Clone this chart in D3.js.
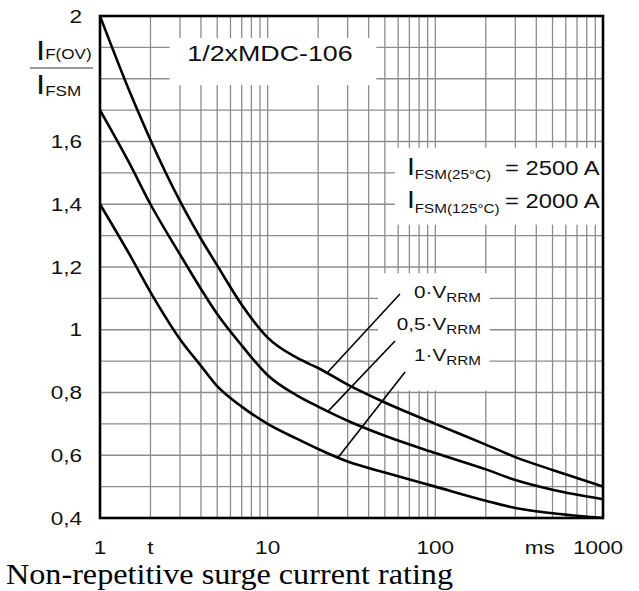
<!DOCTYPE html>
<html><head><meta charset="utf-8">
<script src="https://cdn.jsdelivr.net/npm/d3@7"></script>
<style>body{margin:0;background:#fff}svg{display:block}</style>
</head><body><svg id="c" width="639" height="591"></svg>
<script>
// ---- data ----
const timesMs   = [1, 1.5, 2, 3, 4, 5, 7, 10, 15, 20, 30, 50, 100, 200, 300, 500, 1000];
const ratio0V   = [2.00, 1.76, 1.605, 1.41, 1.29, 1.205, 1.08, 0.975, 0.91, 0.878, 0.825, 0.768, 0.700, 0.634, 0.594, 0.553, 0.500];
const ratio05V  = [1.70, 1.53, 1.40, 1.24, 1.13, 1.05, 0.95, 0.855, 0.79, 0.755, 0.710, 0.662, 0.607, 0.555, 0.521, 0.490, 0.460];
const ratio1V   = [1.40, 1.24, 1.12, 0.97, 0.885, 0.82, 0.755, 0.700, 0.652, 0.620, 0.580, 0.545, 0.500, 0.455, 0.432, 0.415, 0.400];
const seriesNames = ["0·V", "0,5·V", "1·V"];
const yTickValues = [0.4, 0.6, 0.8, 1, 1.2, 1.4, 1.6, 2];
const yTickLabels = ["0,4", "0,6", "0,8", "1", "1,2", "1,4", "1,6", "2"];
const xTickValues = [1, 2, 10, 100, 420, 1000];
const xTickLabels = ["1", "t", "10", "100", "ms", "1000"];
const hGridValues = [0.5,0.6,0.7,0.8,0.9,1.0,1.1,1.2,1.3,1.4,1.5,1.6,1.7,1.8,1.9];
const vGridValues = [2,3,4,5,6,7,8,9,10,20,30,40,50,60,70,80,90,100,200,300,400,500,600,700,800,900];
// leader lines: label end (t, ratio) -> point on curve (t)
const leaderStartT = [61.5, 57.5, 66];
const leaderStartV = [1.114, 0.964, 0.865];
const leaderEndT   = [22.6, 22.9, 26.3];
const labelBaseV   = [1.1, 1.0, 0.9];

// ---- layout ----
const svg = d3.select("#c");
const P = {left: 100, top: 16, right: 603, bottom: 518};
const x = d3.scaleLog().domain([1, 1000]).range([P.left, P.right]);
const y = d3.scaleLinear().domain([0.4, 2]).range([P.bottom, P.top]);
const SX = 1.22;               // horizontal stretch of the scanned lettering
const FONT = "'Liberation Sans', Arial, sans-serif";
const GRID = "#8c8c8c";

svg.append("rect").attr("width", 639).attr("height", 591).attr("fill", "#fff");

// grid
const g = svg.append("g");
g.selectAll("line.h").data(hGridValues).join("line")
  .attr("x1", P.left).attr("x2", P.right)
  .attr("y1", d => y(d)).attr("y2", d => y(d))
  .attr("stroke", GRID).attr("stroke-width", 1.3);
g.selectAll("line.v").data(vGridValues).join("line")
  .attr("y1", P.top).attr("y2", P.bottom)
  .attr("x1", d => x(d)).attr("x2", d => x(d))
  .attr("stroke", GRID).attr("stroke-width", 1.3);

// white boxes that interrupt the grid behind text
function box(t0, t1, v0, v1) {
  svg.append("rect").attr("x", x(t0)).attr("y", y(v0))
    .attr("width", x(t1) - x(t0)).attr("height", y(v1) - y(v0)).attr("fill", "#fff");
}
box(2.6, 44.5, 1.93, 1.78);      // title
box(57.4, 1000, 1.58, 1.335);    // I_FSM legend
box(45.5, 211, 1.18, 0.806);     // curve labels

// curves
const line = d3.line().x(d => x(d[0])).y(d => y(d[1])).curve(d3.curveMonotoneX);
[ratio0V, ratio05V, ratio1V].forEach(vals => {
  svg.append("path").datum(timesMs.map((t, i) => [t, vals[i]]))
    .attr("d", line).attr("fill", "none").attr("stroke", "#000")
    .attr("stroke-width", 2.6).attr("stroke-linejoin", "round");
});

// leader lines
function interp(vals, t) {
  const lt = Math.log10(t);
  for (let i = 0; i < timesMs.length - 1; i++) {
    const a = Math.log10(timesMs[i]), b = Math.log10(timesMs[i + 1]);
    if (lt >= a && lt <= b) return vals[i] + (vals[i + 1] - vals[i]) * (lt - a) / (b - a);
  }
  return vals[vals.length - 1];
}
[ratio0V, ratio05V, ratio1V].forEach((vals, i) => {
  svg.append("line")
    .attr("x1", x(leaderStartT[i])).attr("y1", y(leaderStartV[i]))
    .attr("x2", x(leaderEndT[i])).attr("y2", y(interp(vals, leaderEndT[i])))
    .attr("stroke", "#000").attr("stroke-width", 1.6);
});

// frame
svg.append("rect").attr("x", P.left).attr("y", P.top)
  .attr("width", P.right - P.left).attr("height", P.bottom - P.top)
  .attr("fill", "none").attr("stroke", "#000").attr("stroke-width", 2.6);

// stretched text helper
function st(px, py, anchor, size, family, sx) {
  return svg.append("g").attr("transform", `translate(${px},${py}) scale(${sx || SX},1)`)
    .append("text").attr("text-anchor", anchor).attr("font-family", family || FONT)
    .attr("font-size", size).attr("fill", "#111");
}

// y tick labels
yTickValues.forEach((v, i) => {
  st(82, y(v) + 6.5, "end", 18.5).text(yTickLabels[i]);
});
// x tick labels
xTickValues.forEach((v, i) => {
  st(x(v) + (v === 1000 ? -5 : 0), 554, "middle", 18.5).text(xTickLabels[i]);
});

// y-axis quantity label  I_F(OV) / I_FSM
{
  const t1 = st(36, 60, "start", 27);
  t1.append("tspan").text("I");
  t1.append("tspan").attr("font-size", 14).attr("dy", -1).text("F(OV)");
  svg.append("line").attr("x1", 30).attr("x2", 93).attr("y1", 68).attr("y2", 68)
    .attr("stroke", "#777").attr("stroke-width", 1.6);
  const t2 = st(36, 94, "start", 27);
  t2.append("tspan").text("I");
  t2.append("tspan").attr("font-size", 14).attr("dy", 2).text("FSM");
}

// title
st(270, 61, "middle", 22).text("1/2xMDC-106");

// I_FSM legend
{
  const a = st(407, 175, "start", 23);
  a.append("tspan").text("I");
  a.append("tspan").attr("font-size", 12.5).attr("dy", 4).text("FSM(25°C)");
  st(505, 175, "start", 19.5).text("= 2500 A");
  const b = st(407, 208, "start", 23);
  b.append("tspan").text("I");
  b.append("tspan").attr("font-size", 12.5).attr("dy", 5).text("FSM(125°C)");
  st(505, 208, "start", 19.5).text("= 2000 A");
}

// curve labels
seriesNames.forEach((name, i) => {
  const t = st(481, y(labelBaseV[i]), "end", 17);
  t.append("tspan").text(name);
  t.append("tspan").attr("font-size", 12.5).attr("dy", 4).text("RRM");
});

// caption
st(6, 583.5, "start", 29, "'Liberation Serif', 'Times New Roman', serif", 1.11)
  .attr("fill", "#000").text("Non-repetitive surge current rating");
</script>
</body></html>
